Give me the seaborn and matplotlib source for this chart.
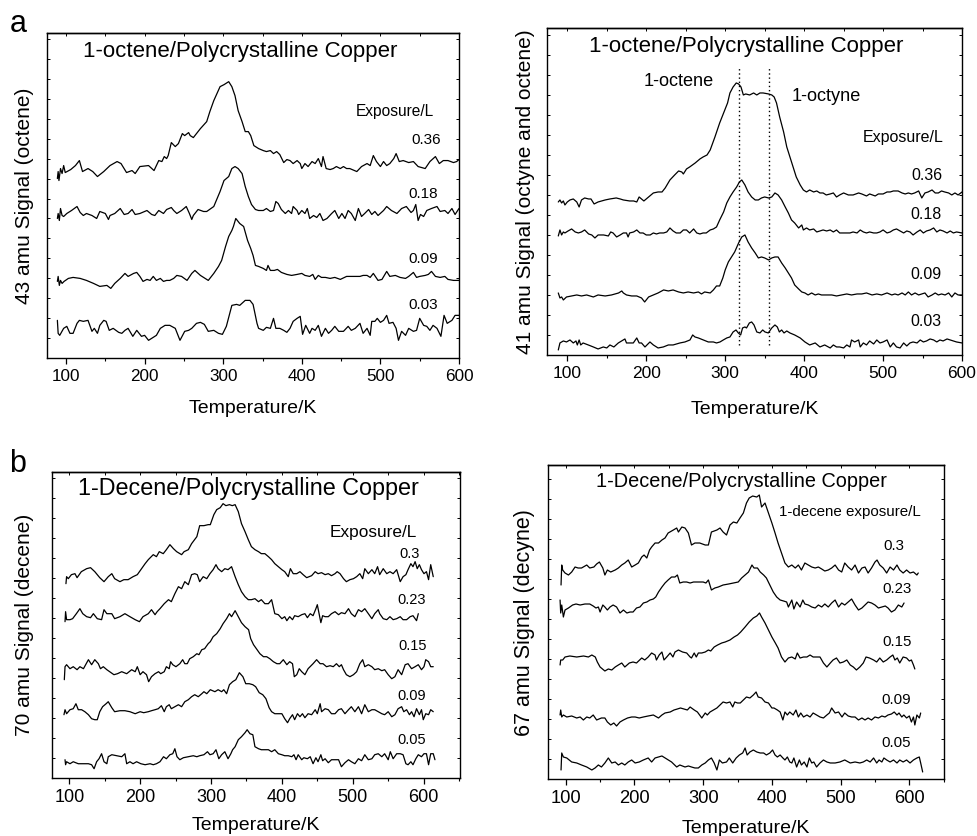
import numpy as np
import pandas as pd
import matplotlib
matplotlib.use("Agg")
import matplotlib.pyplot as plt
import seaborn as sns
from matplotlib.ticker import MultipleLocator

sns.set_style("ticks")
plt.rcParams["font.family"] = ["Liberation Sans", "DejaVu Sans"]
plt.rcParams.update({"text.color": "black", "axes.labelcolor": "black",
                     "xtick.color": "black", "ytick.color": "black",
                     "axes.edgecolor": "black"})

# ---------------- data: (Temperature/K, signal a.u.) ----------------
# panel a, left: 43 amu (octene)
TL_036 = [(89,180),(90,187),(91,178),(93,190),(95,185),(97,193),(99,186),(106,189),(112,193),(117,198),(121,187),(128,190),(134,187),(140,182),(148,187),(156,193),(165,197),(170,195),(177,186),(184,188),(188,185),(194,192),(205,193),(212,188),(218,198),(222,197),(225,202),(228,200),(230,203),(234,216),(239,212),(243,215),(248,225),(251,223),(256,226),(258,223),(262,221),(271,230),(279,237),(283,247),(288,258),(292,265),(296,272),(301,274),(307,277),(311,272),(315,263),(319,248),(324,237),(328,227),(332,227),(335,223),(339,213),(345,210),(351,208),(355,207),(360,208),(364,205),(368,207),(372,204),(377,196),(381,199),(385,198),(389,195),(394,198),(398,195),(400,190),(404,195),(408,192),(413,197),(417,195),(421,200),(425,192),(427,202),(431,190),(436,189),(440,190),(444,192),(449,190),(453,192),(457,190),(461,190),(470,187),(476,192),(483,195),(487,193),(491,203),(495,197),(500,192),(504,197),(508,193),(512,195),(517,200),(520,205),(524,197),(529,198),(536,196),(542,197),(548,192),(557,190),(563,197),(570,202),(575,195),(580,198),(586,198),(593,196),(597,197),(600,199)]
TL_018 = [(89,140),(90,145),(91.5,138),(93,150),(95,143),(97,142),(101,145),(107,148),(114,152),(118,146),(122,143),(126,145),(133,143),(139,140),(143,147),(150,145),(154,139),(156,143),(162,145),(169,150),(174,144),(179,145),(184,149),(188,144),(194,145),(203,148),(209,144),(213,143),(218,148),(224,145),(228,149),(234,151),(237,148),(241,145),(247,148),(253,152),(257,145),(260,139),(262,143),(268,149),(275,147),(279,147),(288,152),(296,167),(301,178),(307,182),(311,190),(315,192),(319,190),(324,185),(328,172),(332,162),(336,154),(341,149),(345,148),(351,148),(355,150),(360,147),(364,148),(367,157),(370,155),(374,149),(379,145),(383,148),(387,145),(389,152),(394,148),(396,144),(400,148),(404,145),(407,150),(410,140),(415,143),(419,141),(423,145),(427,138),(432,140),(438,145),(442,148),(447,140),(451,145),(455,140),(459,148),(463,145),(468,138),(472,150),(476,142),(480,145),(485,149),(489,144),(493,147),(497,143),(504,148),(508,152),(514,148),(521,145),(527,150),(533,152),(539,146),(542,148),(545,154),(548,138),(551,144),(555,142),(559,148),(565,150),(572,152),(576,147),(582,148),(586,145),(591,150),(595,144),(600,150)]
TL_009 = [(89,77),(90,82),(91.5,73),(93,78),(95,75),(97.5,77),(103,80),(109,81),(118,80),(126,78),(135,75),(143,72),(152,73),(157,70),(162,75),(169,80),(175,85),(179,82),(186,85),(190,86),(194,82),(198,77),(203,79),(207,78),(211,82),(215,78),(220,80),(224,77),(228,78),(232,78),(237,80),(241,83),(247,82),(254,78),(260,85),(264,88),(271,83),(277,80),(281,78),(288,85),(294,92),(298,98),(303,112),(307,122),(311,128),(313,132),(316,140),(321,135),(326,132),(331,118),(335,110),(338,103),(341,93),(345,92),(351,90),(355,88),(357,93),(360,88),(365,88),(369,89),(374,86),(381,84),(387,83),(394,84),(400,85),(404,83),(410,82),(414,84),(417,79),(421,83),(425,81),(430,81),(436,80),(442,81),(449,79),(457,82),(466,82),(474,82),(478,83),(483,83),(487,81),(491,85),(497,78),(502,79),(508,87),(512,82),(519,83),(525,81),(532,80),(536,82),(542,86),(546,81),(550,82),(557,83),(561,84),(565,87),(570,82),(576,81),(582,82),(586,79),(593,78),(600,78)]
TL_003 = [(89,38),(90,25),(92,23),(97,30),(101,32),(105,25),(109,25),(114,35),(117,38),(122,37),(128,38),(133,27),(136,30),(140,25),(143,33),(148,38),(151,37),(155,28),(160,30),(167,26),(171,25),(175,28),(179,30),(185,22),(190,28),(196,22),(200,23),(205,18),(209,20),(215,23),(220,30),(226,33),(232,33),(239,30),(245,18),(251,27),(256,28),(260,30),(266,35),(271,36),(276,34),(281,27),(288,28),(294,25),(299,24),(304,32),(311,53),(317,54),(321,53),(328,58),(334,58),(338,54),(343,35),(345,30),(351,28),(355,31),(360,30),(364,40),(367,30),(372,30),(377,28),(381,26),(385,30),(389,37),(394,40),(398,42),(401,24),(405,33),(410,25),(413,30),(417,28),(421,33),(425,22),(430,30),(434,25),(438,28),(442,32),(447,27),(453,27),(459,32),(463,28),(468,30),(474,35),(478,25),(483,30),(487,23),(489,37),(493,37),(496,40),(500,36),(504,38),(508,43),(511,35),(516,36),(520,30),(523,18),(527,27),(532,23),(536,30),(542,27),(546,28),(550,40),(555,33),(559,32),(563,28),(567,33),(572,30),(577,22),(581,43),(585,35),(591,38),(595,43),(600,43)]

# panel a, right: 41 amu (octyne and octene)
TR_036 = [(88.6,153),(90.7,155),(92.8,152),(95,154),(97,150),(100,153),(103.4,155),(107.6,156),(112,153),(115,148),(118,155),(122,157),(127,156),(130,156),(134,151),(139,153),(148,155),(154,156),(162,157),(167,156),(171,155),(179,154),(184,154),(188,153),(191,158),(194,156),(197,154),(203,158),(209,162),(215,163),(220,163),(224,167),(230,175),(236,180),(241,184),(245,183),(247,181),(251,186),(255,188),(262,192),(268,196),(272,198),(277,200),(281,205),(287,218),(293,232),(298,242),(303,252),(306,262),(310,268),(314,272),(317,271),(320,268),(323,260),(326,261),(331,260),(336,262),(340,260),(344,262),(348,262),(355,261),(359,260),(362,258),(365,252),(369,238),(374,223),(378,208),(382,198),(386,188),(390,178),(395,170),(399,165),(403,163),(407,165),(412,163),(416,164),(420,162),(424,162),(428,160),(433,161),(437,162),(441,158),(445,160),(450,162),(456,160),(462,160),(469,162),(473,161),(479,159),(483,161),(490,159),(494,161),(500,161),(505,163),(509,163),(513,164),(519,164),(524,162),(528,161),(532,162),(536,161),(540,162),(545,164),(549,157),(553,162),(557,163),(562,165),(566,162),(570,162),(574,164),(578,163),(583,162),(587,160),(591,162),(595,160),(600,163)]
TR_018 = [(88.6,119),(90.7,125),(92.8,120),(95,123),(97,122),(101,124),(105.5,126),(110,123),(114,122),(118,123),(122,125),(127,121),(131,120),(135,117),(139,120),(146,120),(152,119),(155,123),(158,122),(162.5,118),(167,120),(171,122),(175,122),(177,118),(179,122),(184,123),(188,125),(192,122),(196,122),(200,120),(205,120),(209,122),(213,121),(217,122),(222,122),(226,123),(230,127),(234,124),(238,122),(243,122),(247,125),(251,125),(255,122),(260,126),(264,122),(268,121),(272,122),(276,122),(281,125),(285,126),(289,128),(293,135),(298,143),(302,152),(306,158),(310,163),(314.5,168),(318,173),(321,175),(325,170),(329,163),(333.5,158),(338,155),(342,155),(346,157),(350,158),(355,157),(359,158),(363,162),(367,160),(371.5,155),(376,148),(380,142),(384,135),(388,132),(393,127),(397,130),(399,125),(403,127),(407,125),(412,126),(416,123),(420,124),(424,125),(428.5,124),(433,125),(437,123),(441,125),(445,122),(450,122),(454,122),(458,122),(462,123),(467,122),(471,125),(475,123),(479,122),(483,123),(488,122),(492,122),(496,123),(500,125),(505,122),(509,123),(513,125),(517,126),(521.5,124),(526,122),(530,124),(534,123),(538,120),(543,123),(547,125),(551,122),(555,124),(559.5,125),(564,127),(568,123),(572,125),(576,124),(581,122),(585,124),(589,122),(593,123),(600,122)]
TR_009 = [(88.6,62),(90.7,57),(92.8,58),(95,55),(99,58),(105.5,59),(112,60),(118,59),(124.5,60),(133,58),(139,60),(148,59),(156,60),(165,62),(169,64),(171,62),(175,60),(181.5,59),(188,59),(194,57),(198,53),(203,58),(209,60),(215,62),(222,65),(228,64),(234,65),(241,63),(247,62),(253,63),(260,62),(266,63),(270,61),(274,63),(281,62),(285,65),(289,69),(293,69),(297,77),(300,85),(304,93),(308,98),(312,103),(317,112),(321,118),(325,120),(329,113),(333.5,107),(338,102),(342,97),(346,98),(350,97),(355,95),(359,97),(363,98),(367,98),(371.5,92),(376,87),(380,82),(384,77),(388,70),(393,66),(397,63),(401,62),(405,60),(409.5,62),(414,60),(418,61),(422,60),(428.5,60),(435,60),(441,59),(447.5,60),(454,61),(460,60),(467,61),(473,61),(479,62),(486,60),(492,61),(498,60),(505,62),(511,60),(515,61),(519,60),(524,62),(528,60),(532,63),(536,60),(540.5,62),(545,60),(549,61),(553,62),(557,58),(562,60),(566,62),(570,60),(574,61),(578.5,60),(583,62),(587,58),(591,62),(595,60),(600,60)]
TR_003 = [(88.6,5),(90.7,12),(95,14),(99,13),(103.4,15),(107.6,12),(111,14),(112.7,10),(115,15),(117,10),(120,12),(126.6,10),(133,8),(139,6),(145.6,8),(150,7),(154,10),(159,8),(164.6,12),(168.8,14),(173,16),(175,12),(179,12),(183.6,12),(188,17),(191,12),(194,12),(198.4,8),(204.7,13),(209,10),(215,7),(221.6,8),(228,10),(234,10),(242.7,12),(249,13),(255.4,15),(258.8,20),(261.7,18),(266,17),(272.3,15),(278.6,13),(285,13),(289,12),(293.4,13),(297.6,15),(302,17),(306,18),(310,23),(313.7,25),(316.6,22),(319.6,20),(322,27),(325,28),(327,27),(330.6,32),(333.5,33),(336.5,30),(340,23),(344,22),(347.5,25),(350.4,23),(354.6,22),(359,27),(363,30),(366,28),(368.6,23),(371.5,25),(374.5,22),(378,24),(382,22),(388,20),(395,17),(401,13),(407,10),(414,12),(420,8),(426,10),(433,7),(437,10),(441,8),(445,8),(450,7),(454,10),(458,8),(460,15),(464,13),(469,15),(471,8),(475,12),(479,10),(483,14),(488,11),(492,15),(496,12),(500,13),(505,15),(509,8),(513,12),(517,8),(521.5,7),(526,12),(530,9),(534,12),(538,13),(543,12),(547,15),(551,13),(555,14),(559.5,16),(564,15),(568,13),(572,15),(576,14),(581,16),(585,15),(589,14),(593,13),(600,12)]

# panel b, left: 70 amu (decene)
BL_030 = [(95.3,194),(96.2,201),(98.6,199),(103,203),(108,204),(111,200),(117,206),(124.5,209),(130,210),(136,206),(143,200),(149,196),(155,201),(160,204),(164,199),(171.5,196),(177,198),(183,198),(190,201),(196,203),(202,209),(207,214),(211.5,218),(218.5,223),(223,221),(227,226),(232.6,224),(237,228),(242,233),(247,229),(251.5,226),(258.5,223),(262,226),(268,228),(272.6,234),(280,241),(284,252),(290,252),(296,253),(299,253),(304,263),(308,268),(313,270),(317,274),(321,272),(326,273),(330,272),(334,273),(338.5,266),(343,254),(348,246),(352.6,238),(357,231),(362,228),(367,226),(371,224),(376,224),(381,221),(385.5,218),(390,214),(395,211),(400,208),(404,206),(409,201),(412,209),(416,204),(421,204),(425.5,206),(430,203),(435,200),(442,202),(447,206),(451,204),(456,205),(461,203),(465.5,204),(470,202),(475,204),(478,206),(482,204),(487,199),(491,196),(496,198),(501,199),(505.5,201),(510,204),(514,199),(517,209),(522,204),(527,208),(531,204),(535,211),(538,203),(543,209),(548,204),(552.5,206),(557,204),(562,208),(567,196),(571,201),(575,203),(578,208),(582,214),(585,211),(588,216),(591,209),(594,213),(597,208),(600.5,204),(604,206),(607,198),(610,213),(613.6,201)]
BL_023 = [(94,156),(94.8,166),(96.2,158),(101,158),(104.7,159),(110,164),(115,169),(119,164),(124.5,161),(130,160),(134,164),(139.5,159),(145.6,158),(149,168),(153,164),(160,164),(164,159),(171.5,161),(178.5,164),(185.6,161),(193,158),(199,156),(204,161),(211.5,164),(216,168),(221,163),(224,166),(228,169),(234,174),(240,178),(244,176),(249,184),(254,191),(258.5,189),(263,196),(268,193),(272.6,203),(277,204),(280.6,203),(284,196),(289,201),(294,199),(298.5,204),(303,208),(307,213),(310,209),(315,206),(319.5,209),(324,208),(329,211),(334,201),(338.5,193),(343,186),(348,181),(352.6,178),(357,178),(362,179),(367,176),(371,178),(376,174),(381,174),(385.5,178),(390,164),(395,163),(400,159),(404,161),(407,157),(411,161),(415,158),(418,162),(423,161),(428,163),(432.5,164),(436,160),(440,164),(444,162),(448,169),(450,173),(455,155),(457.5,162),(461,161),(465.5,161),(470,164),(475,166),(480,163),(484,165),(489,164),(494,169),(498,164),(503,161),(508,168),(512.5,166),(517,169),(522,164),(527,159),(531,164),(536,168),(538,164),(543,159),(548,158),(552.5,161),(557,158),(562,159),(567,161),(571,158),(576,158),(581,161),(585,162),(590,157),(592.5,164)]
BL_015 = [(93,98),(94,111),(96.2,113),(101,109),(105.6,111),(111,108),(115,111),(120,109),(127,118),(131.5,113),(136,118),(141,114),(144,109),(148,111),(153,108),(157,106),(163,103),(168,104),(174,106),(181,104),(188,108),(193,106),(196,111),(200,103),(204,106),(209,103),(212,96),(216,101),(221,104),(226,106),(229,104),(234,106),(237,111),(241,109),(243,116),(246,113),(250.5,111),(256,114),(260,118),(263,114),(266.5,114),(270,119),(275,121),(280,124),(283,123),(287,128),(291,129),(296,134),(299,136),(303,141),(308,144),(313,149),(317,154),(322,159),(326,164),(329,161),(334,167),(338.5,161),(343,155),(348,151),(353,148),(356,139),(360,133),(364,129),(369,124),(374,121),(378.5,121),(383,119),(388,116),(393,114),(397,114),(402,118),(407,113),(411,116),(415,114),(417.5,101),(421,103),(424.5,109),(428,106),(432.5,103),(437,109),(444,114),(449,118),(454,114),(458,114),(463,111),(468,112),(472.5,111),(477,114),(481,111),(484,113),(487,108),(491,103),(496,101),(501,103),(505.5,106),(510,114),(514,118),(517,111),(522,113),(527,111),(531,108),(536,109),(541,107),(545,108),(550,103),(555,99),(559.5,101),(564,108),(569,103),(574,113),(578,114),(583,109),(588,111),(592.5,113),(597,108),(600.5,111),(603,118),(607,116),(610,111),(613.6,111)]
BL_009 = [(92.5,63),(94,68),(96.2,64),(101,68),(105.6,69),(109.4,74),(112.7,68),(117.4,68),(122,66),(127,63),(131.5,59),(136,58),(139.5,58),(143,66),(147,71),(152,74),(155,76),(160,70),(164,66),(171.5,67),(178.5,67),(185.6,66),(193,64),(200,66),(205,65),(211.5,66),(216,67),(221,68),(225.6,69),(230,72),(234,66),(237,71),(241,73),(244,69),(249,71),(254,73),(258.5,71),(263,76),(268,78),(272.6,81),(277,83),(282,81),(287,84),(290,86),(294,84),(299,88),(305.5,86),(310,88),(315,86),(318,88),(322,84),(326,93),(330.5,96),(335,98),(340,105),(345,101),(349,94),(354,94),(359,93),(363,91),(368,85),(373,83),(377.5,79),(382,70),(385.5,66),(390,64),(395,64),(400,64),(404,59),(408,55),(411,59),(415,63),(418,58),(422,64),(425.5,61),(429,64),(432.5,60),(437,64),(442,63),(447,68),(450,64),(454,74),(456,66),(461,69),(465.5,68),(470,64),(475,64),(480,68),(484,69),(489,64),(494,68),(498,71),(503,66),(508,71),(512.5,64),(517,73),(522,66),(527,68),(531,68),(536,66),(541,64),(545,63),(550,66),(555,61),(559.5,63),(564,69),(569,71),(572,66),(576,68),(580,63),(583,66),(586.5,61),(590,69),(594,63),(597,68),(599.5,58),(603,64),(607,63),(610,68),(613.6,66)]
BL_005 = [(94,18),(94.8,13),(96.2,16),(101,14),(105.6,16),(112.7,14),(120,14),(127,14),(131.5,13),(135,9),(138.6,16),(142,19),(145.6,24),(149,16),(153,14),(155,21),(160,23),(167,22),(174,21),(178.5,24),(181,14),(185.6,16),(190,14),(195,16),(201,14),(207,13),(214,14),(218.5,13),(223,14),(228,16),(233,21),(237,19),(242,23),(246,24),(249,29),(252,21),(256,18),(261,20),(268,21),(275,22),(280,21),(284,22),(290,23),(295,26),(298.5,23),(303,24),(307,28),(311,19),(315,23),(319.5,26),(324,19),(328,24),(330.5,28),(334,31),(338.5,38),(343,41),(348,45),(351,48),(355,44),(359,43),(362,31),(367,29),(371,28),(376,28),(381,28),(385.5,26),(390,28),(395,24),(400,23),(404,22),(409,22),(414,21),(417,23),(420,18),(423,23),(428,18),(431,20),(436,19),(440,21),(444,14),(448,20),(451,16),(455,23),(457.5,17),(461,19),(465.5,15),(470,18),(475,18),(480,18),(484,11),(489,15),(494,18),(498,16),(503,14),(508,19),(512.5,17),(517,23),(522,18),(527,19),(531,23),(536,24),(541,21),(545,24),(550,18),(553,26),(557,19),(562,24),(567,24),(571,23),(575,14),(578,13),(582,16),(585,13),(589,19),(592.5,23),(597,21),(600.5,24),(604,24),(607,13),(610,24),(613.6,24),(616,18)]

# panel b, right: 67 amu (decyne)
BR_030 = [(93.2,194),(94.2,214),(95.6,209),(99,206),(104,204),(108.7,207),(113.6,212),(118,211),(123,211),(130.6,214),(135,211),(141,212),(145,215),(149,217),(154,211),(157,204),(160.6,209),(165.5,207),(172,209),(176.6,211),(181.5,214),(186,216),(191,219),(196,212),(201,214),(205.7,216),(210.6,222),(214,224),(218,221),(222,229),(225,232),(230,236),(235,236),(240,239),(244.5,241),(249,246),(256.6,249),(261.5,251),(264,247),(269,252),(273.6,251),(278.5,246),(283,234),(288,236),(295,236),(303,234),(307.6,234),(312,247),(320,249),(324.5,251),(329,247),(334,244),(339,254),(344,257),(349,256),(353.6,261),(358.5,266),(363,276),(367,281),(372,283),(378,282),(381.7,284),(385,272),(390,276),(395,266),(400,256),(404.6,246),(409,236),(414,226),(419,216),(424,212),(429,214),(434,211),(438.5,214),(443,209),(448,216),(453,214),(458,212),(463,211),(467.6,212),(472.5,210),(477,208),(482,209),(487,211),(492,214),(497,209),(501.6,207),(506,216),(511,212),(516,209),(521,214),(526,206),(531,211),(535.5,212),(540,206),(545,211),(550,217),(553,219),(557,214),(562,211),(567,206),(572,212),(577,209),(582,214),(586,209),(591,206),(596,209),(601,206),(606,207),(611,204),(613,206)]
BR_023 = [(91.8,179),(92.7,166),(94.2,174),(96.6,162),(99,169),(104,171),(110,174),(115,175),(121,174),(128,175),(135,175),(140,173),(144,171),(147.5,172),(150,167),(154,174),(157,172),(160.6,169),(164.5,172),(169,174),(174,172),(179,166),(184,169),(189,166),(193.6,167),(198,167),(203,171),(208,172),(213,176),(218,177),(222.7,179),(227.5,180),(231,182),(235,187),(240,192),(244.5,196),(249,199),(254,202),(259,202),(262.5,204),(266,196),(271,197),(276,197),(281,196),(286,197),(291.6,197),(295,197),(300,197),(304,196),(307.6,199),(312,189),(317,191),(322,192),(329,194),(337,195),(344,196),(351,197),(356,201),(361,204),(366,207),(371,214),(374,211),(379,211),(383,207),(388,204),(392,201),(397,194),(402,187),(407,182),(412,179),(417,178),(421.5,177),(424,172),(429,179),(432,170),(436,177),(441,172),(445,179),(448,175),(453,174),(458,172),(463,171),(467.6,174),(472.5,172),(477,175),(482,172),(487,176),(492,179),(497,172),(501.6,176),(506,174),(511,177),(516,180),(521,174),(526,169),(531,171),(535.5,174),(540,177),(545,176),(550,174),(555,171),(560,172),(565,173),(569,171),(574,167),(579,169),(584,174),(589,172),(592.3,176)]
BR_015 = [(91.8,114),(92.7,119),(95.6,119),(99,122),(106,123),(116,122),(126,123),(133,122),(138,124),(143,122),(146,117),(150,112),(157,108),(162,110),(167,109),(172,112),(176.6,114),(181.5,116),(186,112),(192.6,116),(198,117),(203,116),(210.6,121),(215,119),(220,122),(225,126),(230,124),(232,119),(236,124),(240,127),(243,119),(247,122),(252,126),(256,122),(259,127),(264,129),(270,127),(276,126),(281,122),(283,121),(287,126),(290,122),(293,126),(298,126),(303,127),(307.6,129),(311,128),(316,132),(321,134),(327,136),(332,137),(339,139),(345,142),(350,144),(354.6,147),(361,152),(367,157),(373,161),(378,163),(382,166),(385,162),(390,156),(395,149),(400,142),(405,136),(409,131),(414,122),(419,117),(424,121),(429,122),(434,120),(437,126),(441,121),(446,122),(451,122),(455.5,124),(460,122),(465,122),(470,122),(475,116),(480,112),(485,116),(489,119),(494,121),(499,116),(504,117),(509,119),(514,114),(518.5,112),(523,109),(528,112),(533,116),(537,122),(542,121),(548,119),(552.5,117),(557,121),(562,117),(567,119),(572,122),(576,124),(579,119),(582.5,121),(586,116),(591,122),(596,121),(600,118),(603,119),(606,114),(608,110)]
BR_009 = [(91.8,64),(92.7,69),(94.2,62),(96.6,64),(101.5,62),(108.7,63),(116,61),(121,62),(125.7,59),(130.6,62),(135,61),(140,64),(145,59),(152,61),(157,61),(160.6,57),(165.5,54),(170,56),(174,53),(179,57),(184,59),(190,61),(196,62),(201,62),(207,61),(213,62),(220,63),(227.5,64),(235,61),(240,64),(244.5,66),(252,67),(257.6,69),(262.5,70),(267,71),(272,70),(277,69),(281,72),(287,69),(291.6,67),(298,61),(303,66),(306,64),(310,67),(315,69),(320,71),(324.5,74),(329,77),(334,76),(339,77),(343,72),(346,77),(350,76),(354,76),(358.5,79),(363,82),(368,81),(373,84),(377,87),(380,82),(385,81),(390,77),(395,76),(400,71),(403,71),(408,69),(412,67),(416,59),(419,67),(422.5,64),(426,67),(431,64),(435,69),(438.5,62),(442,66),(446,62),(451,64),(455.5,62),(460,66),(465,64),(470,62),(475,61),(480,64),(483.6,66),(487,71),(492,66),(497,67),(502,62),(506,66),(511,63),(516,62),(521,62),(526,59),(531,61),(535.5,59),(540,61),(545,59),(550,62),(555,61),(560,63),(564.6,62),(569,64),(574,65),(578,67),(582,64),(585,66),(589,62),(592,64),(596,61),(600,63),(603,57),(606,62),(608,54),(611,64),(614.6,61),(616.5,66)]
BR_005 = [(93.2,9),(94.2,26),(96.6,22),(101.5,21),(108.7,17),(116,16),(123,14),(130.6,12),(138,9),(142.7,11),(147.5,14),(152,12),(157,16),(162,21),(167,16),(172,17),(176.6,14),(181.5,16),(186,14),(191,17),(196,19),(201,16),(207,17),(213,19),(220,21),(225,17),(230,21),(235,22),(240,23),(247,20),(254,17),(261.5,12),(266,14),(273.6,12),(278.5,13),(283,12),(288,11),(293,11),(298,14),(303,16),(307.6,19),(312,21),(316,16),(320,9),(323.6,19),(328,16),(334,17),(338,21),(343,16),(348,21),(352.7,24),(357.5,26),(361,31),(364,24),(368,27),(373,29),(378,27),(383,26),(388,26),(392,24),(397,26),(401,29),(404.6,24),(408,22),(412,24),(416,21),(419,19),(422.5,22),(426,17),(429,16),(432,21),(436,12),(440,19),(443,14),(447,17),(451,12),(454.5,21),(458,16),(461,17),(465,12),(470,16),(475,19),(480,17),(485,16),(492,16),(499,17),(506,19),(514,16),(521,17),(528,16),(533,17),(538,19),(543,17),(548,21),(552.5,16),(556,19),(560,17),(563,21),(567,19),(572,17),(577,19),(582,16),(586,19),(591,17),(596,19),(601,16),(606,19),(611,21),(614.5,22),(616.5,16),(619.4,7)]

EXPOSURE_A = ["0.36", "0.18", "0.09", "0.03"]
EXPOSURE_B = ["0.3", "0.23", "0.15", "0.09", "0.05"]
TICKS = [100, 200, 300, 400, 500, 600]
PEAK_MARKERS_TR = [318, 356]  # dotted guide temperatures (K)

# label anchor points (T, signal) for exposure numbers
TL_LABELS = [(558, 219), (555, 165), (555, 99), (555, 53)]
TR_LABELS = [(555, 179), (554, 140), (554, 80), (554, 33)]
BL_LABELS = [(580, 224), (583, 178), (584, 132), (583, 82), (583, 38)]
BR_LABELS = [(578, 233), (582, 190), (582, 137), (581, 79), (581, 36)]

panels = [
    dict(curves=[TL_036, TL_018, TL_009, TL_003], names=EXPOSURE_A, labels=TL_LABELS,
         rect=[0.0481, 0.5714, 0.4217, 0.3891], xlim=(75.8, 600), ylim=(0, 325.7),
         ylabel="43 amu Signal (octene)", ylsize=15, ylpad=9.5, xlpad=11.5,
         title="1-octene/Polycrystalline Copper", tpos=(321, 307), tsize=16,
         head="Exposure/L", hpos=(519, 247), hsize=11.2, nsize=11, ticksize=12.3),
    dict(curves=[TR_036, TR_018, TR_009, TR_003], names=EXPOSURE_A, labels=TR_LABELS,
         rect=[0.5602, 0.5754, 0.4245, 0.3915], xlim=(74.7, 600), ylim=(0, 327.3),
         ylabel="41 amu Signal (octyne and octene)", ylsize=15, ylpad=9, xlpad=14.5,
         title="1-octene/Polycrystalline Copper", tpos=(327, 308), tsize=16,
         head="Exposure/L", hpos=(525, 217), hsize=11.5, nsize=11.5, ticksize=12.5),
    dict(curves=[BL_030, BL_023, BL_015, BL_009, BL_005], names=EXPOSURE_B, labels=BL_LABELS,
         rect=[0.0535, 0.0697, 0.4173, 0.3653], xlim=(76, 651.3), ylim=(0, 305.3),
         ylabel="70 amu Signal (decene)", ylsize=15, ylpad=13, xlpad=8.2,
         title="1-Decene/Polycrystalline Copper", tpos=(353, 289), tsize=16.8,
         head="Exposure/L", hpos=(529, 245), hsize=12.4, nsize=10.5, ticksize=13),
    dict(curves=[BR_030, BR_023, BR_015, BR_009, BR_005], names=EXPOSURE_B, labels=BR_LABELS,
         rect=[0.5606, 0.0682, 0.4056, 0.3752], xlim=(73.8, 650.4), ylim=(0, 313.7),
         ylabel="67 amu Signal (decyne)", ylsize=15.5, ylpad=9.5, xlpad=9.6,
         title="1-Decene/Polycrystalline Copper", tpos=(356, 298), tsize=14.3,
         head="1-decene exposure/L", hpos=(513, 267), hsize=10.9, nsize=10.8, ticksize=13.2),
]

fig = plt.figure(figsize=(9.77, 8.36), dpi=100)
axes = []
for p in panels:
    ax = fig.add_axes(p["rect"])
    axes.append(ax)
    frames = []
    for name, c in zip(p["names"], p["curves"]):
        arr = np.array(c, dtype=float)
        frames.append(pd.DataFrame({"T": arr[:, 0], "signal": arr[:, 1], "exposure": name}))
    df = pd.concat(frames, ignore_index=True)
    sns.lineplot(data=df, x="T", y="signal", units="exposure", estimator=None,
                 sort=False, color="black", lw=0.9, legend=False, ax=ax)
    ax.set_xlim(*p["xlim"])
    ax.set_ylim(*p["ylim"])
    ax.set_xticks(TICKS)
    ax.set_xticklabels([str(t) for t in TICKS])
    ax.xaxis.set_minor_locator(MultipleLocator(50))
    ax.tick_params(axis="x", which="major", direction="out", length=4, width=0.9,
                   labelsize=p["ticksize"], pad=4)
    ax.tick_params(axis="x", which="minor", direction="out", length=2, width=0.8)
    ax.set_yticks(np.arange(20, p["ylim"][1], 20))
    ax.tick_params(axis="y", which="major", direction="in", length=2.5, width=0.7,
                   left=True, right=True, labelleft=False)
    sec = ax.secondary_xaxis("top")
    sec.set_xticks(TICKS)
    sec.xaxis.set_minor_locator(MultipleLocator(50))
    sec.tick_params(axis="x", which="both", direction="in", length=2.5, width=0.7,
                    labeltop=False)
    sec.spines["top"].set_linewidth(1.0)
    for s in ax.spines.values():
        s.set_visible(True)
        s.set_linewidth(1.0)
        s.set_color("black")
    ax.set_xlabel("Temperature/K", fontsize=14, labelpad=p["xlpad"])
    ax.set_ylabel(p["ylabel"], fontsize=p["ylsize"], labelpad=p["ylpad"])
    ax.text(*p["tpos"], p["title"], fontsize=p["tsize"], ha="center", va="center")
    ax.text(*p["hpos"], p["head"], fontsize=p["hsize"], ha="center", va="center")
    for name, (lx, ly) in zip(p["names"], p["labels"]):
        ax.text(lx, ly, name, fontsize=p["nsize"], ha="center", va="center")

# dotted guides and peak names in panel a, right
axes[1].vlines(PEAK_MARKERS_TR, 10, 288, colors="black", linestyles=(0, (1, 2)), lw=1.0)
axes[1].text(241, 273, "1-octene", fontsize=13.1, ha="center", va="center")
axes[1].text(428, 258, "1-octyne", fontsize=13.1, ha="center", va="center")

fig.text(18 / 977, 1 - 24 / 836, "a", fontsize=22, ha="center", va="center")
fig.text(18 / 977, 1 - 464 / 836, "b", fontsize=22, ha="center", va="center")

fig.savefig("out.png", dpi=100, facecolor="white")
